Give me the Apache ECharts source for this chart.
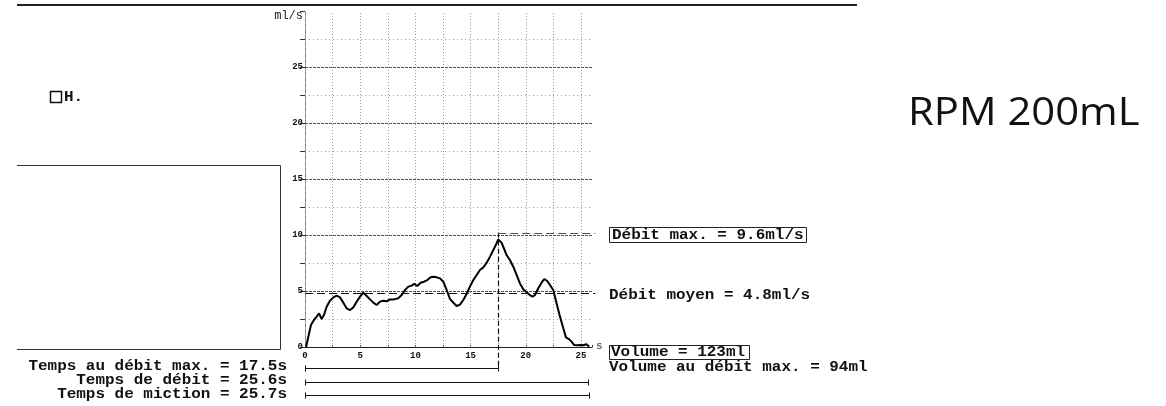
<!DOCTYPE html>
<html>
<head>
<meta charset="utf-8">
<script src="https://cdn.jsdelivr.net/npm/echarts@6.0.0/dist/echarts.min.js"></script>
<style>
  html, body { margin: 0; padding: 0; background: #fff; }
  #chart { width: 1166px; height: 406px; }
</style>
</head>
<body>
<div id="chart"></div>
<script>
// Uroflowmetry trace: time (s) and flow rate (ml/s)
const timeS = [0.1, 0.3, 0.54, 0.81, 1.06, 1.27, 1.51, 1.72, 1.96, 2.26,
  2.57, 2.87, 3.17, 3.47, 3.77, 4.08, 4.38, 4.68, 4.98, 5.28,
  5.59, 5.89, 6.19, 6.49, 6.79, 7.1, 7.4, 7.7, 8.06, 8.45,
  8.76, 9.06, 9.36, 9.66, 9.9, 10.17, 10.47, 10.78, 11.08, 11.38,
  11.62, 11.93, 12.23, 12.53, 12.83, 13.13, 13.44, 13.74, 14.04, 14.34,
  14.64, 14.94, 15.25, 15.55, 15.85, 16.15, 16.46, 16.76, 17.06, 17.36,
  17.5, 17.81, 18.02, 18.26, 18.56, 18.87, 19.17, 19.47, 19.77, 20.07,
  20.38, 20.62, 20.83, 21.13, 21.43, 21.68, 21.95, 22.25, 22.49, 22.79,
  23.1, 23.4, 23.64, 23.94, 24.15, 24.37, 24.67, 24.97, 25.2, 25.5, 25.75];
const flowMlS = [0, 0.92, 1.96, 2.41, 2.71, 3.0, 2.5, 2.86, 3.6, 4.13,
  4.43, 4.58, 4.43, 3.96, 3.45, 3.3, 3.54, 4.05, 4.49, 4.85,
  4.55, 4.25, 3.96, 3.75, 4.05, 4.13, 4.08, 4.25, 4.25, 4.35,
  4.64, 5.09, 5.39, 5.48, 5.63, 5.45, 5.74, 5.83, 5.98, 6.22,
  6.28, 6.22, 6.13, 5.83, 5.09, 4.3, 3.95, 3.66, 3.78, 4.2,
  4.73, 5.39, 5.98, 6.43, 6.88, 7.11, 7.53, 8.07, 8.66, 9.26,
  9.6, 9.32, 8.81, 8.21, 7.77, 7.17, 6.43, 5.68, 5.15, 4.88,
  4.64, 4.49, 4.64, 5.24, 5.74, 6.07, 5.89, 5.45, 5.09, 3.9,
  2.71, 1.67, 0.86, 0.68, 0.48, 0.18, 0.15, 0.18, 0.15, 0.24, 0.03];

// Grid positions (s and ml/s)
const gridTimes = [0, 2.5, 5, 7.5, 10, 12.5, 15, 17.5, 20, 22.5, 25];
const majorFlows = [5, 10, 15, 20, 25];
const minorFlows = [2.5, 7.5, 12.5, 17.5, 22.5, 27.5];

// Summary measurements
const peakTime = 17.5;
const peakFlow = 9.6;
const meanFlow = 4.8;
const flowTime = 25.6;
const voidTime = 25.7;
const voidedVolume = 123;
const volumeAtPeak = 94;
const peakLeaderFlow = 10.2;   // height of the leader running to the "Débit max." box
const leaderEndTime = 26.3;

const chart = echarts.init(document.getElementById('chart'), null, { renderer: 'canvas' });

const MONO = '"Liberation Mono", "DejaVu Sans Mono", monospace';
const TEXT_FONT = 'bold 14px ' + MONO;
const STRETCH = 1.14;

const option = {
  animation: false,
  backgroundColor: '#ffffff',
  grid: { left: 305, top: 11, width: 287, height: 336, containLabel: false },
  xAxis: {
    type: 'value', min: 0, max: 26, interval: 2.5,
    axisLine: { show: true, lineStyle: { color: '#222', width: 1 } },
    axisTick: { show: true, inside: true, length: 2, lineStyle: { color: '#333' } },
    axisLabel: {
      margin: 4, color: '#111', fontFamily: MONO, fontWeight: 'bold', fontSize: 9,
      formatter: v => (v % 5 === 0 && v <= 25) ? String(v) : ''
    },
    splitLine: { show: false }
  },
  yAxis: {
    type: 'value', min: 0, max: 30, interval: 2.5,
    axisLine: { show: true, lineStyle: { color: '#777', width: 1, type: [1, 1] } },
    axisTick: { show: true, length: 5, lineStyle: { color: '#333' } },
    axisLabel: {
      margin: 2, color: '#111', fontFamily: MONO, fontWeight: 'bold', fontSize: 9,
      formatter: v => (v % 5 === 0 && v < 30) ? String(v) : ''
    },
    splitLine: { show: false }
  },
  series: [
    {
      // background grid
      type: 'line', z: 1, silent: true, showSymbol: false,
      data: [[0, 0]], lineStyle: { opacity: 0 },
      markLine: {
        silent: true, symbol: ['none', 'none'], label: { show: false },
        emphasis: { disabled: true },
        data: [
          ...gridTimes.map(t => ({ xAxis: t, lineStyle: { color: '#9a9a9a', width: 1, type: [1, 2] } })),
          ...minorFlows.map(f => ({ yAxis: f, lineStyle: { color: '#a0a0a0', width: 1, type: [1, 3] } })),
          ...majorFlows.map(f => ({ yAxis: f, lineStyle: { color: '#555', width: 1, type: [3, 1] } }))
        ]
      }
    },
    {
      type: 'line', z: 5, showSymbol: false, smooth: false,
      data: timeS.map((t, i) => [t, flowMlS[i]]),
      lineStyle: { color: '#000', width: 2 }
    }
  ]
};
chart.setOption(option);

const px = (t, f) => chart.convertToPixel({ gridIndex: 0 }, [t, f]);
const crisp = v => Math.round(v) + 0.5;

function monoText(x, y, text, align) {
  return {
    type: 'text', x: x, y: y, scaleX: STRETCH, z: 10,
    style: { text: text, x: 0, y: 0, align: align || 'left', verticalAlign: 'middle', font: TEXT_FONT, fill: '#111' }
  };
}
function seg(x1, y1, x2, y2, extra) {
  return {
    type: 'line', z: 10, silent: true,
    shape: { x1: x1, y1: y1, x2: x2, y2: y2 },
    style: Object.assign({ stroke: '#111', lineWidth: 1 }, extra || {})
  };
}

const g = [];

// header rule and patient box
g.push(seg(17, 5, 857, 5, { lineWidth: 2, stroke: '#222' }));
g.push({ type: 'polyline', z: 10, shape: { points: [[17, 165.5], [280.5, 165.5], [280.5, 349.5], [17, 349.5]] },
  style: { stroke: '#333', lineWidth: 1, fill: 'none' } });
g.push({ type: 'rect', z: 10, shape: { x: 50.5, y: 91.5, width: 11, height: 11 },
  style: { stroke: '#111', lineWidth: 1.5, fill: 'none' } });
g.push(monoText(64, 97, 'H.', 'left'));

// axis units
g.push({ type: 'text', x: 303, y: 16, z: 10,
  style: { text: 'ml/s', align: 'right', verticalAlign: 'middle', font: '12px ' + MONO, fill: '#222' } });
g.push({ type: 'text', x: 596, y: 346, z: 10,
  style: { text: 's', align: 'left', verticalAlign: 'middle', font: '11px ' + MONO, fill: '#333' } });

// peak leader lines
const pPeakTop = px(peakTime, peakLeaderFlow);
const pLeaderEnd = px(leaderEndTime, peakLeaderFlow);
const barY = [368.5, 382.5, 395.5];
g.push(seg(crisp(pPeakTop[0]), pPeakTop[1], crisp(pPeakTop[0]), barY[0], { lineDash: [5, 3], lineWidth: 1.2 }));
g.push(seg(pPeakTop[0], crisp(pPeakTop[1]), pLeaderEnd[0], crisp(pPeakTop[1]), { lineDash: [8, 4], stroke: '#555' }));

// mean flow line
const pMean0 = px(0, meanFlow);
const pMean1 = px(leaderEndTime, meanFlow);
g.push(seg(pMean0[0], crisp(pMean0[1]), pMean1[0], crisp(pMean0[1]), { lineDash: [8, 4], lineWidth: 1.2 }));

// time bars under the axis
const barEnds = [peakTime, flowTime, voidTime];
const x0 = crisp(px(0, 0)[0]);
barEnds.forEach((t, i) => {
  const x1 = crisp(px(t, 0)[0]);
  g.push(seg(x0, barY[i], x1, barY[i]));
  g.push(seg(x0, barY[i] - 3, x0, barY[i] + 3));
  g.push(seg(x1, barY[i] - 3, x1, barY[i] + 3));
});

// measurement labels
g.push({ type: 'rect', z: 10, shape: { x: 609.5, y: 227.5, width: 197, height: 15 },
  style: { stroke: '#222', lineWidth: 1, fill: 'none' } });
g.push(monoText(612, 235, 'Débit max. = ' + peakFlow.toFixed(1) + 'ml/s'));
g.push(monoText(609, 295, 'Débit moyen = ' + meanFlow.toFixed(1) + 'ml/s'));
g.push({ type: 'rect', z: 10, shape: { x: 609.5, y: 345.5, width: 140, height: 14 },
  style: { stroke: '#222', lineWidth: 1, fill: 'none' } });
g.push(monoText(611, 352.5, 'Volume = ' + voidedVolume + 'ml'));
g.push(monoText(609, 367, 'Volume au débit max. = ' + volumeAtPeak + 'ml'));

g.push(monoText(287, 366, 'Temps au débit max. = ' + peakTime.toFixed(1) + 's', 'right'));
g.push(monoText(287, 380, 'Temps de débit = ' + flowTime.toFixed(1) + 's', 'right'));
g.push(monoText(287, 394, 'Temps de miction = ' + voidTime.toFixed(1) + 's', 'right'));

// caption
g.push({ type: 'text', x: 908, y: 114, scaleX: 1.1, z: 10,
  style: { text: 'RPM 200mL', align: 'left', verticalAlign: 'middle', font: '38px "Open Sans", "Noto Sans", sans-serif', fill: '#111' } });

chart.setOption({ graphic: g });
</script>
</body>
</html>
